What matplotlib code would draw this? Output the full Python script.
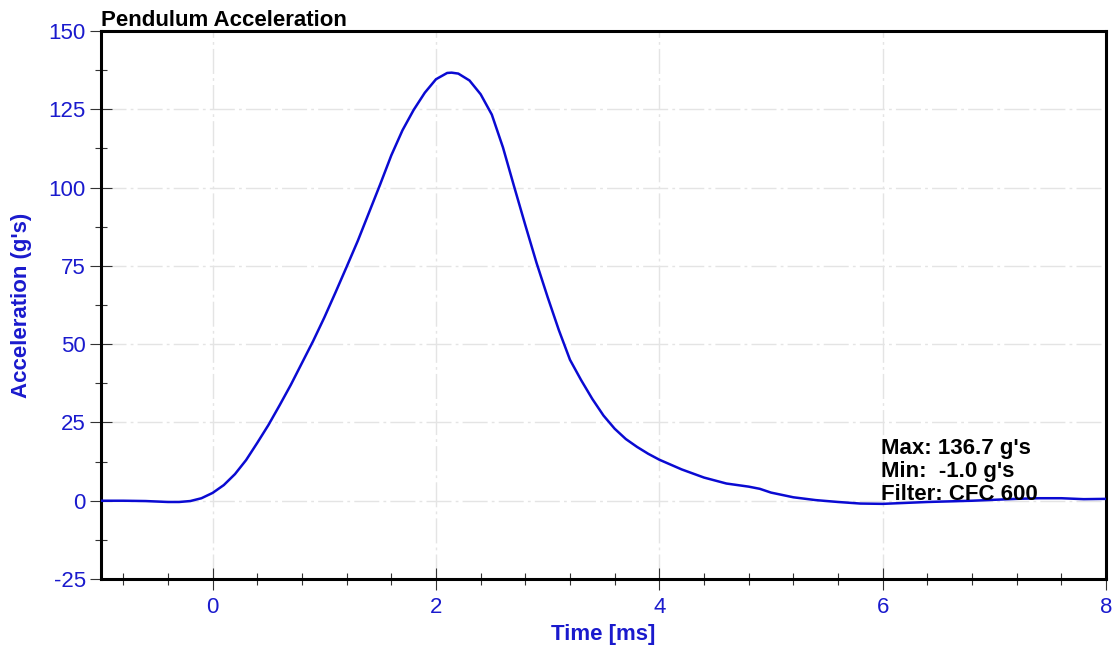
import matplotlib.pyplot as plt
from matplotlib.ticker import MultipleLocator

# данные: время (мс) и ускорение (g)
time_ms = [-1.0, -0.8, -0.6, -0.4, -0.3, -0.2, -0.1, 0.0, 0.1, 0.2, 0.3, 0.4, 0.5,
           0.6, 0.7, 0.8, 0.9, 1.0, 1.1, 1.2, 1.3, 1.4, 1.5, 1.6, 1.7, 1.8, 1.9,
           2.0, 2.1, 2.14, 2.2, 2.3, 2.4, 2.5, 2.6, 2.7, 2.8, 2.9, 3.0, 3.1, 3.2,
           3.3, 3.4, 3.5, 3.6, 3.7, 3.8, 3.9, 4.0, 4.2, 4.4, 4.6, 4.8, 4.9, 5.0,
           5.2, 5.4, 5.6, 5.8, 6.0, 6.2, 6.4, 6.6, 6.8, 7.0, 7.2, 7.4, 7.6, 7.8, 8.0]
accel_g = [0.0, 0.0, -0.1, -0.4, -0.4, -0.1, 0.8, 2.5, 5.0, 8.5, 13.0, 18.5, 24.2,
           30.5, 37.0, 44.0, 51.0, 58.5, 66.5, 74.7, 83.0, 92.0, 101.0, 110.3, 118.3,
           124.8, 130.3, 134.6, 136.6, 136.7, 136.4, 134.2, 129.8, 123.3, 112.8,
           100.3, 88.0, 76.0, 65.0, 54.5, 45.0, 38.5, 32.5, 27.2, 23.0, 19.7, 17.2,
           15.0, 13.1, 10.0, 7.4, 5.5, 4.5, 3.8, 2.6, 1.1, 0.2, -0.4, -0.9, -1.0,
           -0.7, -0.4, -0.2, 0.0, 0.3, 0.6, 0.8, 0.8, 0.5, 0.6]

stats_lines = ["Max: 136.7 g's", "Min:  -1.0 g's", "Filter: CFC 600"]

blue = '#1a1acd'
line_blue = '#0a0ad2'

plt.rcParams['font.family'] = ['Liberation Sans', 'DejaVu Sans']
plt.rcParams['axes.unicode_minus'] = False

fig = plt.figure(figsize=(11.18, 6.5), dpi=100)
ax = fig.add_axes([0.0903, 0.1092, 0.8990, 0.8431])

ax.plot(time_ms, accel_g, color=line_blue, linewidth=1.8, zorder=3)

ax.set_xlim(-1, 8)
ax.set_ylim(-25, 150)
ax.xaxis.set_major_locator(MultipleLocator(2))
ax.xaxis.set_minor_locator(MultipleLocator(0.4))
ax.yaxis.set_major_locator(MultipleLocator(25))
ax.yaxis.set_minor_locator(MultipleLocator(12.5))

ax.tick_params(which='major', direction='inout', length=16, width=0.8,
               color='#333333', labelsize=16, labelcolor=blue)
ax.tick_params(which='minor', direction='inout', length=8.6, width=0.8, color='#333333')
ax.tick_params(axis='x', which='major', pad=5)
ax.tick_params(axis='y', which='major', pad=3)

for s in ax.spines.values():
    s.set_linewidth(2.2)
    s.set_color('black')

# пунктирная сетка только на основных делениях
ax.grid(True, which='major', color='#e4e4e4', linewidth=1.0, dashes=(18, 3, 2, 3))
ax.set_axisbelow(True)

ax.set_xlabel('Time [ms]', fontsize=16, fontweight='bold', color=blue, labelpad=4)
ax.set_ylabel("Acceleration (g's)", fontsize=16, fontweight='bold', color=blue, labelpad=12)
ax.set_title('Pendulum Acceleration', loc='left', fontsize=16, fontweight='bold', pad=2)

for i, line in enumerate(stats_lines):
    ax.text(0.776, 0.257 - i * 0.042, line, transform=ax.transAxes, fontsize=16,
            fontweight='bold', color='black', va='top', ha='left', zorder=4)

fig.savefig('out.png', dpi=100)
